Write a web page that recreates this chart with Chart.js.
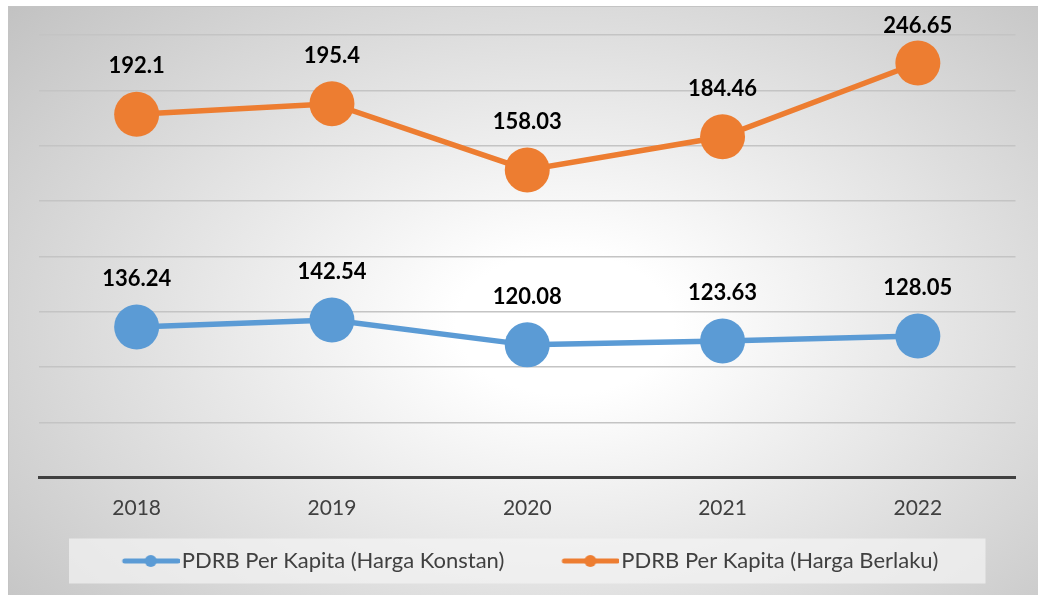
<!DOCTYPE html>
<html><head><meta charset="utf-8">
<script src="https://cdn.jsdelivr.net/npm/chart.js@4.4.0/dist/chart.umd.min.js"></script>
<style>
html,body{margin:0;padding:0;background:#fff;width:1038px;height:595px;overflow:hidden}
#wrap{position:absolute;left:8px;top:6px;width:1030px;height:589px;
 background:radial-gradient(ellipse 75% 85% at 54% 54%, #ffffff 0%, #ffffff 14%, #bfbfbf 100%);
 box-shadow:inset 1px 1px 0 #c4c4c4}
canvas{display:block}
</style></head><body>
<div id="wrap"><canvas id="c" width="1030" height="589"></canvas></div>
<script>
const years = ['2018', '2019', '2020', '2021', '2022'];
const konstanValues = [136.24, 142.54, 120.08, 123.63, 128.05];
const berlakuValues = [192.1, 195.4, 158.03, 184.46, 246.65];
const seriesNames = ['PDRB Per Kapita (Harga Konstan)', 'PDRB Per Kapita (Harga Berlaku)'];
const seriesColors = ['#5B9BD5', '#ED7D31'];

// legend icon: transparent left part, line sample in the right part
function makeIcon(color) {
  const c = document.createElement('canvas');
  c.width = 113; c.height = 14;
  const g = c.getContext('2d');
  g.strokeStyle = color; g.lineWidth = 5; g.lineCap = 'round';
  g.beginPath(); g.moveTo(58, 7); g.lineTo(111, 7); g.stroke();
  g.fillStyle = color; g.beginPath(); g.arc(84, 7, 6, 0, Math.PI * 2); g.fill();
  return c;
}
const legendIcons = seriesColors.map(makeIcon);

const legendShift = {
  id: 'legendShift',
  afterLayout(chart) {
    const lg = chart.legend;
    if (!lg) return;
    lg.left -= 21; lg.right -= 21;
  }
};

const legendBg = {
  id: 'legendBg',
  beforeDraw(chart) {
    const lg = chart.legend, ca = chart.chartArea;
    if (!lg) return;
    const cy = lg.top + lg.options.labels.padding + 11;
    const ctx = chart.ctx;
    ctx.save();
    ctx.fillStyle = 'rgba(244,244,244,0.7)';
    ctx.fillRect(ca.left + 30, cy - 22.5, ca.right - ca.left - 60, 45);
    ctx.restore();
  }
};

const valueLabels = {
  id: 'valueLabels',
  afterDatasetsDraw(chart) {
    const ctx = chart.ctx;
    const minY = chart.chartArea.top - 9;
    ctx.save();
    ctx.font = 'bold 22px Lato';
    ctx.fillStyle = '#000';
    ctx.textAlign = 'center';
    ctx.textBaseline = 'middle';
    chart.data.datasets.forEach((ds, di) => {
      const meta = chart.getDatasetMeta(di);
      meta.data.forEach((pt, i) => {
        ctx.fillText(String(ds.data[i]), pt.x, Math.max(minY, pt.y - 48));
      });
    });
    ctx.restore();
  }
};

new Chart(document.getElementById('c'), {
  type: 'line',
  data: {
    labels: years,
    datasets: [
      { label: seriesNames[0], data: konstanValues, borderColor: seriesColors[0], backgroundColor: seriesColors[0],
        borderWidth: 5.5, pointRadius: 22.5, pointHoverRadius: 22.5, pointBorderWidth: 0, fill: false, tension: 0 },
      { label: seriesNames[1], data: berlakuValues, borderColor: seriesColors[1], backgroundColor: seriesColors[1],
        borderWidth: 5.5, pointRadius: 22.5, pointHoverRadius: 22.5, pointBorderWidth: 0, fill: false, tension: 0 }
    ]
  },
  options: {
    responsive: false,
    animation: false,
    layout: { padding: { left: 31, right: 21, top: 29, bottom: 13 } },
    scales: {
      x: {
        offset: true,
        grid: { display: false, drawTicks: false, tickLength: 0 },
        border: { display: true, color: '#404040', width: 3 },
        ticks: { color: '#404040', font: { family: 'Lato', size: 21 }, padding: 18 }
      },
      y: {
        stacked: true,
        min: 0, max: 400,
        grid: { color: '#c4c4c4', lineWidth: 1.5, drawTicks: false, tickLength: 0 },
        border: { display: false },
        ticks: { display: false, stepSize: 50 }
      }
    },
    plugins: {
      tooltip: { enabled: false },
      legend: {
        position: 'bottom',
        labels: {
          usePointStyle: true,
          pointStyleWidth: 95,
          padding: 11,
          color: '#404040',
          font: { family: 'Lato', size: 22 },
          generateLabels(chart) {
            const items = Chart.defaults.plugins.legend.labels.generateLabels(chart);
            items.forEach((it, i) => { it.pointStyle = legendIcons[i]; });
            return items;
          }
        }
      }
    }
  },
  plugins: [legendShift, legendBg, valueLabels]
});
</script>
</body></html>
